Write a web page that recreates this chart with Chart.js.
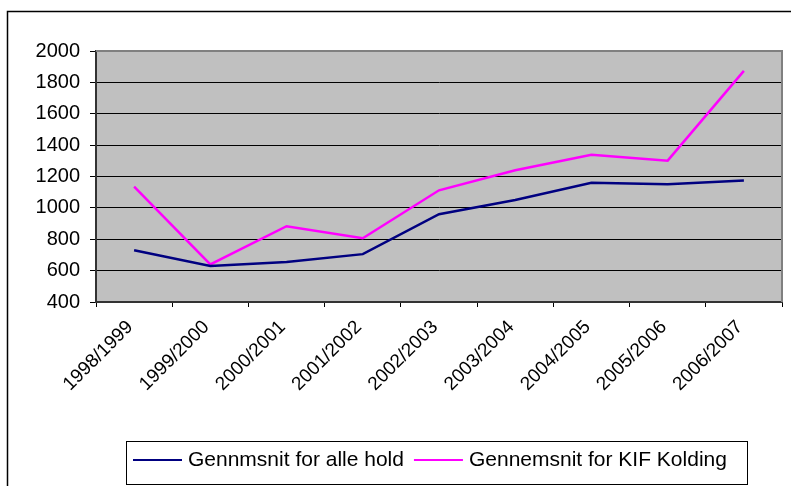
<!DOCTYPE html>
<html>
<head>
<meta charset="utf-8">
<script src="https://cdn.jsdelivr.net/npm/chart.js@4.4.0/dist/chart.umd.min.js"></script>
<style>
  body { margin: 0; background: #fff; }
  canvas { display: block; }
</style>
</head>
<body>
<canvas id="graf" width="791" height="486"></canvas>
<script>
const seasons = ['1998/1999', '1999/2000', '2000/2001', '2001/2002', '2002/2003', '2003/2004', '2004/2005', '2005/2006', '2006/2007']
const alleHold = [730, 630, 655, 705, 960, 1050, 1160, 1150, 1175]
const kifKolding = [1135, 640, 883, 806, 1112, 1240, 1339, 1301, 1873]
const seriesNames = ['Gennmsnit for alle hold', 'Gennemsnit for KIF Kolding']
const seriesColors = ['#000080', '#FF00FF']
const yTicks = [400, 600, 800, 1000, 1200, 1400, 1600, 1800, 2000]

const font = 'Arial, "Liberation Sans", sans-serif'

// frame, gray plot area and the boxed legend
const excelLook = {
    id: 'excelLook',
    beforeDraw(chart){
        const ctx = chart.ctx
        const a = chart.chartArea
        ctx.save()
        ctx.fillStyle = '#fff'
        ctx.fillRect(0, 0, chart.width, chart.height)
        ctx.strokeStyle = '#000'
        ctx.lineWidth = 1.5
        ctx.beginPath()
        ctx.moveTo(7.5, chart.height)
        ctx.lineTo(7.5, 11.5)
        ctx.lineTo(chart.width, 11.5)
        ctx.stroke()
        ctx.fillStyle = '#C0C0C0'
        ctx.fillRect(a.left, a.top, a.right - a.left, a.bottom - a.top)
        ctx.restore()
    },
    afterDraw(chart){
        const ctx = chart.ctx
        const a = chart.chartArea
        ctx.save()
        ctx.strokeStyle = '#808080'
        ctx.lineWidth = 2
        ctx.beginPath()
        ctx.moveTo(a.left, a.top)
        ctx.lineTo(a.right, a.top)
        ctx.lineTo(a.right, a.bottom)
        ctx.stroke()

        // legend
        ctx.strokeStyle = '#000'
        ctx.lineWidth = 1
        ctx.strokeRect(126.5, 441.5, 621, 43)
        ctx.font = '21px ' + font
        ctx.textBaseline = 'middle'
        ctx.fillStyle = '#000'
        let x = 133
        const y = 460
        chart.data.datasets.forEach(ds => {
            ctx.strokeStyle = ds.borderColor
            ctx.lineWidth = 2
            ctx.beginPath()
            ctx.moveTo(x, y)
            ctx.lineTo(x + 49, y)
            ctx.stroke()
            x += 55
            ctx.fillText(ds.label, x, y)
            x += ctx.measureText(ds.label).width + 10
        })
        ctx.restore()
    }
}

const dataset = [alleHold, kifKolding].map((values, i) => ({
    label: seriesNames[i],
    data: values,
    borderColor: seriesColors[i],
    backgroundColor: seriesColors[i],
    borderWidth: 2.5,
    pointRadius: 0,
    tension: 0,
    fill: false
}))

new Chart(document.getElementById('graf'), {
    type: 'line',
    data: {
        labels: seasons,
        datasets: dataset
    },
    options: {
        responsive: false,
        animation: false,
        devicePixelRatio: 1,
        layout: { padding: { top: 51, right: 9, left: 0, bottom: 54 } },
        plugins: {
            legend: { display: false },
            tooltip: { enabled: false }
        },
        scales: {
            x: {
                offset: true,
                afterFit: scale => { scale.height = 130 },
                grid: { offset: true, drawOnChartArea: false, color: '#000', tickLength: 5 },
                border: { color: '#333', width: 2 },
                ticks: {
                    autoSkip: false,
                    minRotation: 45,
                    maxRotation: 45,
                    padding: 9,
                    labelOffset: -4,
                    color: '#000',
                    font: { family: font, size: 19 }
                }
            },
            y: {
                min: 400,
                max: 2000,
                afterFit: scale => { scale.width = 96 },
                afterBuildTicks: scale => { scale.ticks = yTicks.map(v => ({ value: v })) },
                grid: { color: '#000', tickLength: 6 },
                border: { color: '#333', width: 2 },
                ticks: {
                    padding: 10,
                    color: '#000',
                    font: { family: font, size: 20 },
                    callback: v => String(v)
                }
            }
        }
    },
    plugins: [excelLook]
})
</script>
</body>
</html>
